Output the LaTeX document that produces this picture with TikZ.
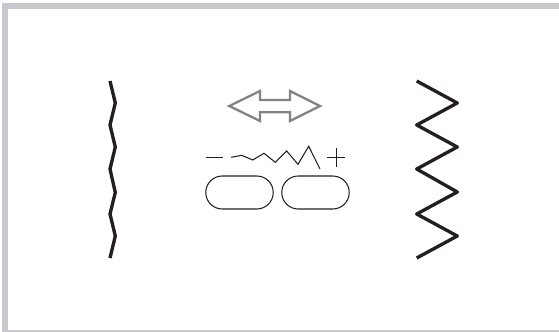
\documentclass[tikz,border=0pt]{standalone}
\usepackage{tikz}

\definecolor{framegray}{RGB}{200,201,205}
\definecolor{arrowgray}{RGB}{130,131,134}
\definecolor{inkblack}{RGB}{35,31,32}

\begin{document}
\begin{tikzpicture}[
  x=0.02cm,
  y=-0.02cm,
  zigzag/.style={
      draw=inkblack,
      line width=1.9pt,
      line join=round
  },
  thinline/.style={
      draw=inkblack,
      line width=0.6pt
  },
  pill/.style={
      rectangle,
      draw=inkblack,
      line width=0.6pt,
      rounded corners=0.33cm,
      minimum width=1.35cm,
      minimum height=0.66cm,
      inner sep=0pt
  },
  widthmark/.style={
      draw=arrowgray,
      line width=1.3pt
  }
]

\useasboundingbox (0,0) rectangle (559,332);

% ==================================================
% Frame
% ==================================================

\fill[framegray] (2,3) rectangle (559,332);
\fill[white] (8,9) rectangle (559,330);

% ==================================================
% Narrow Zigzag
% ==================================================

\draw[zigzag]
      (110,81) -- (115.3,103) -- (110,125)
      -- (115.3,147) -- (110,169) -- (115.3,192.5)
      -- (110,214) -- (115.3,236) -- (110,258);

% ==================================================
% Wide Zigzag
% ==================================================

\draw[zigzag]
      (416.7,81) -- (457.3,103) -- (416.7,125)
      -- (457.3,147) -- (416.7,169) -- (457.3,192)
      -- (416.7,214) -- (457.3,236) -- (416.7,258);

% ==================================================
% Width Symbol
% ==================================================

\draw[widthmark]
      (229.3,106) -- (260,91) -- (260,100)
      -- (290,100) -- (290,91) -- (320,106)
      -- (290,121) -- (290,112.3) -- (260,112.3)
      -- (260,121) -- cycle;

% ==================================================
% Minus, Stitch, Plus
% ==================================================

\draw[thinline] (205.7,157.7) -- (223.3,157.7);

\draw[thinline]
      (231.3,157.3) -- (241.7,155.3) -- (252.7,160)
      -- (264,153.3) -- (275.3,162.3) -- (286.7,151)
      -- (298,164.3) -- (308.7,146.3) -- (320,169);

\draw[thinline] (327.3,157.7) -- (345.3,157.7);
\draw[thinline] (336.3,148.3) -- (336.3,166.7);

% ==================================================
% Buttons
% ==================================================

\node[pill] (minusbtn) at (239.5,192.5) {};

\node[pill] (plusbtn) at (315.5,192.5) {};

\end{tikzpicture}
\end{document}
